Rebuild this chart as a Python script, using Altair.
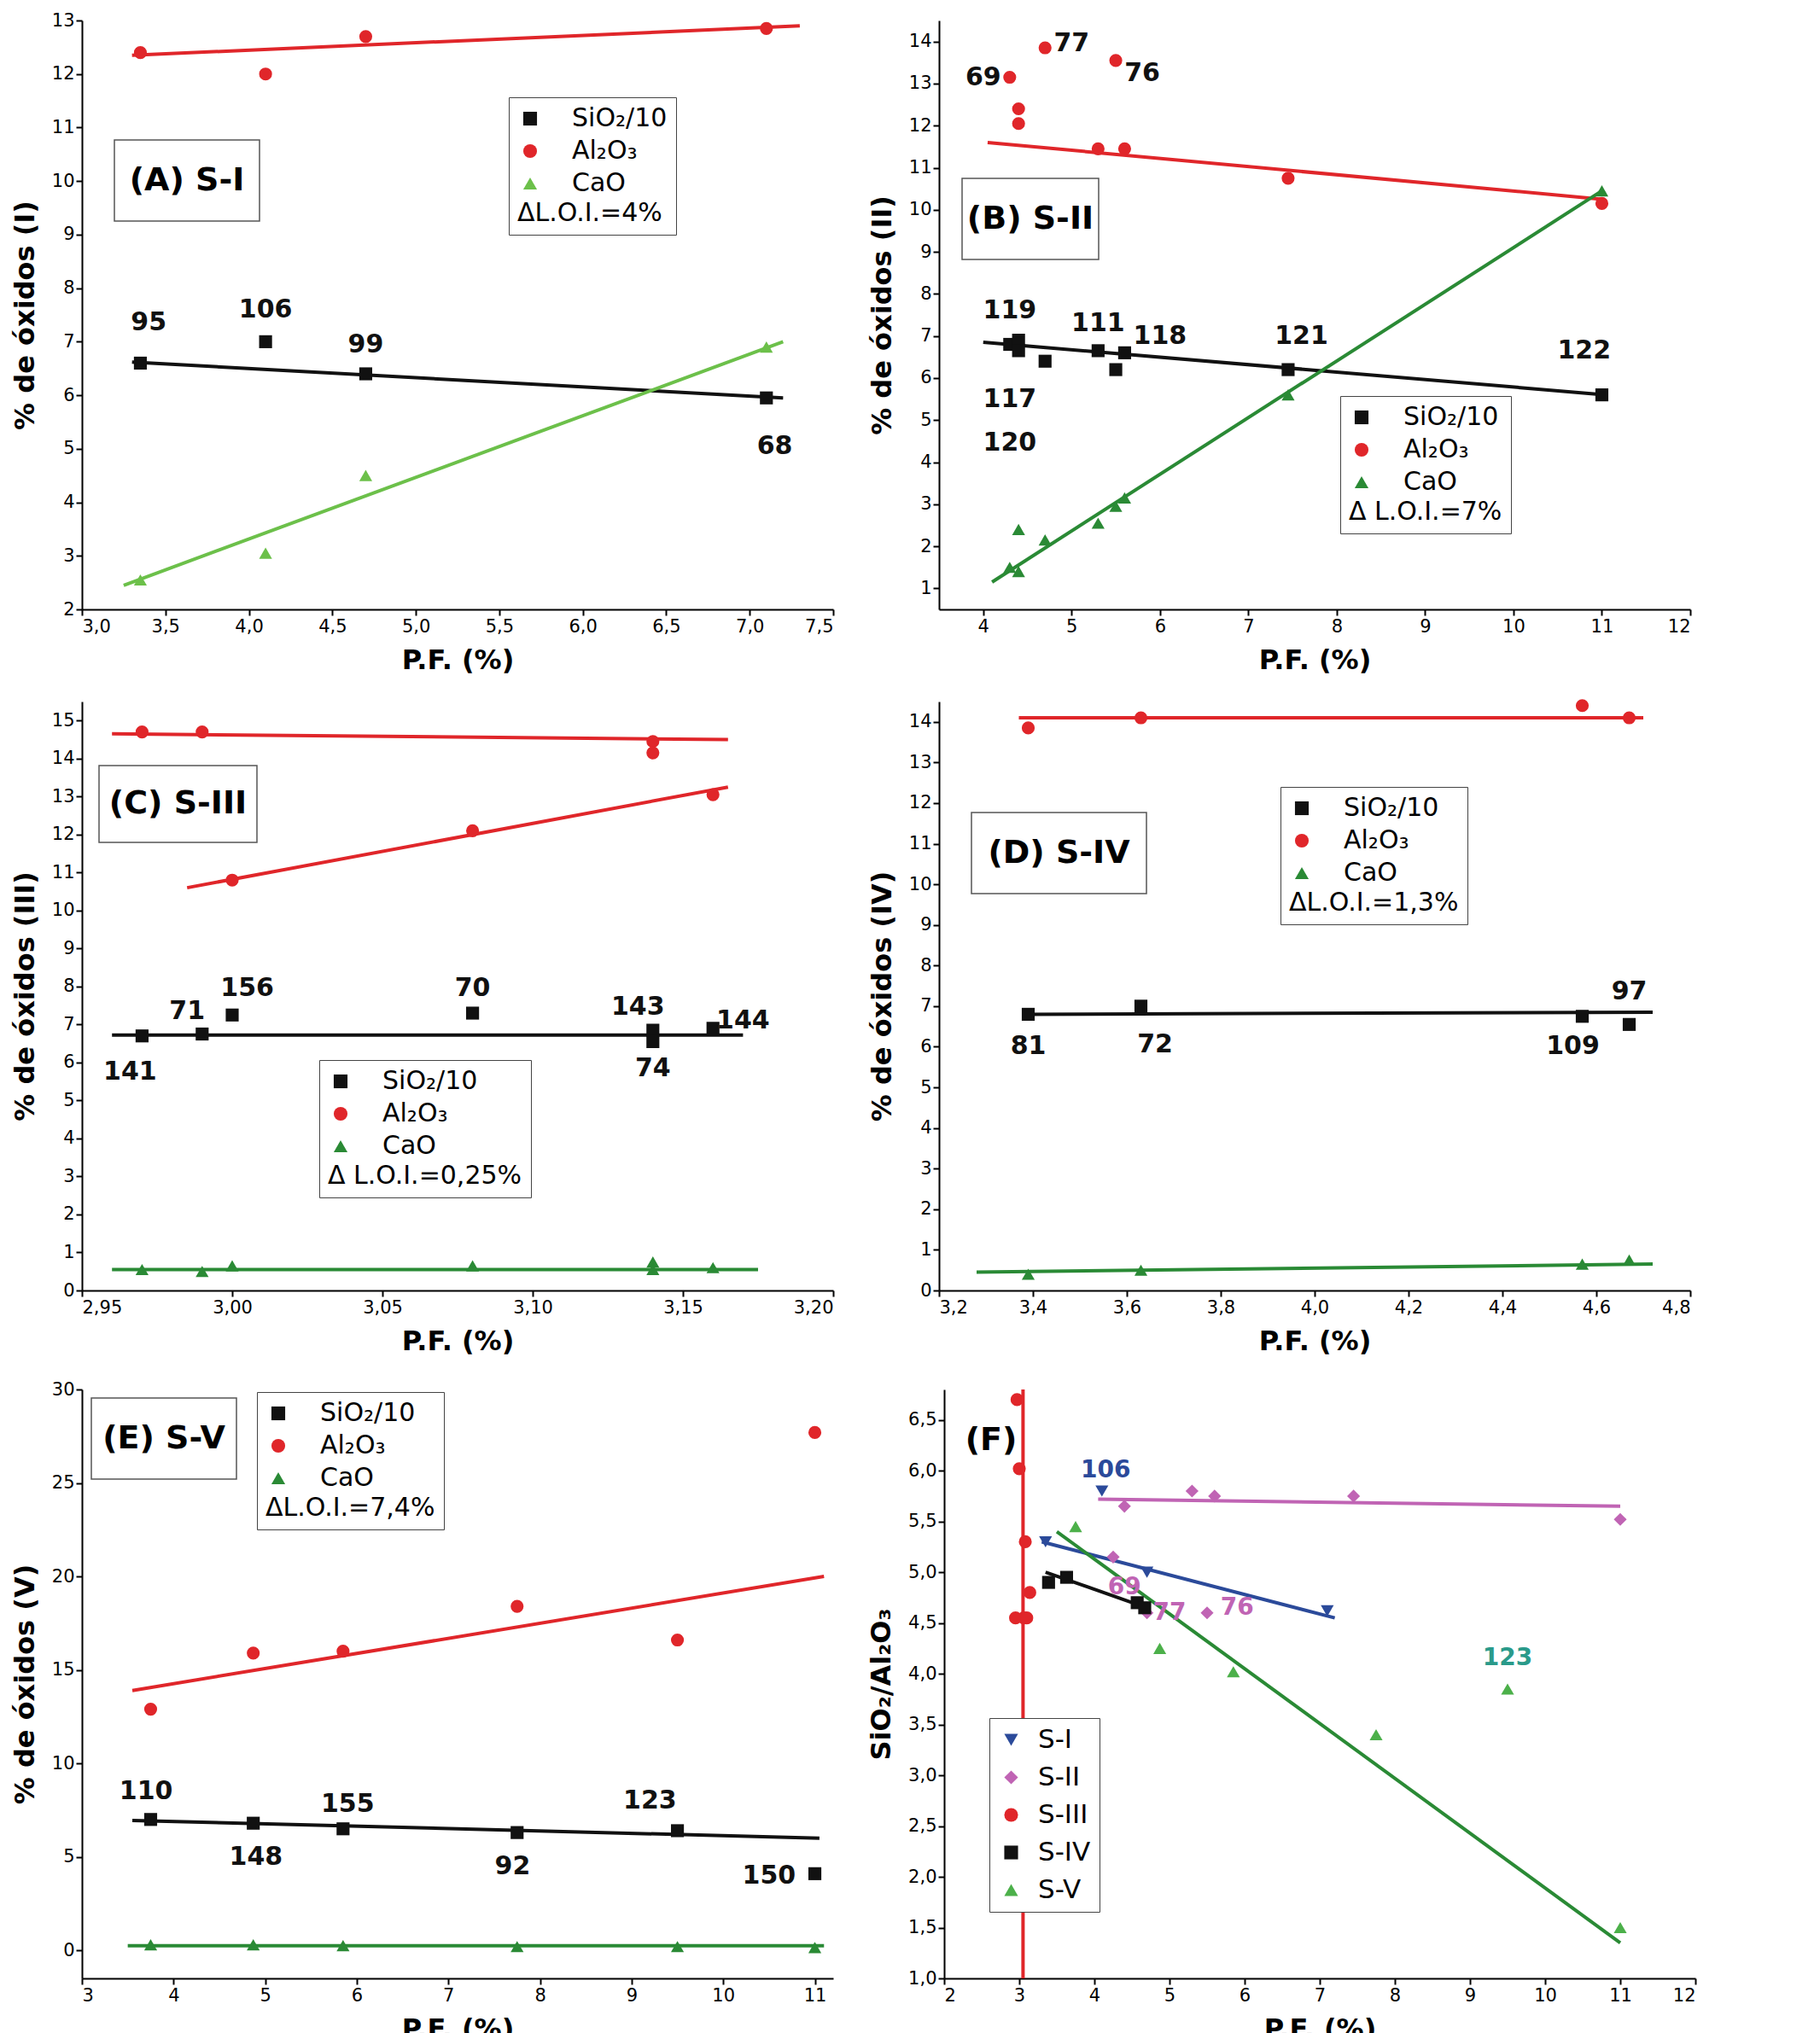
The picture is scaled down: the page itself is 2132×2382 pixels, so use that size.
import altair as alt
import pandas as pd

FONT = "DejaVu Sans"
BLACK, RED, GREEN_A, GREEN = "#111111", "#e0262a", "#6cc04a", "#2a8a35"
SER = ["SiO₂/10", "Al₂O₃", "CaO"]

# ---- Panel A ----
A_x = [3.35, 4.1, 4.7, 7.1]
A_si = [6.6, 7.0, 6.4, 5.95]
A_al = [12.4, 12.0, 12.7, 12.85]
A_ca = [2.55, 3.05, 4.5, 6.9]
A_lab = ["95", "106", "99", "68"]
A_labx = [3.4, 4.1, 4.7, 7.15]
A_laby = [7.35, 7.6, 6.95, 5.05]
A_lines = [(BLACK, 3.3, 6.62, 7.2, 5.95), (RED, 3.3, 12.35, 7.3, 12.9), (GREEN_A, 3.25, 2.45, 7.2, 7.0)]

# ---- Panel B ----
B_x = [4.3, 4.4, 4.4, 4.7, 5.3, 5.5, 5.6, 7.45, 11.0]
B_si = [6.8, 6.9, 6.65, 6.4, 6.65, 6.2, 6.6, 6.2, 5.6]
B_al = [13.15, 12.4, 12.05, 13.85, 11.45, 13.55, 11.45, 10.75, 10.15]
B_ca = [1.5, 2.4, 1.4, 2.15, 2.55, 2.95, 3.15, 5.6, 10.45]
B_lab = ["69", "77", "76", "119", "111", "118", "117", "120", "121", "122"]
B_labx = [4.0, 5.0, 5.8, 4.3, 5.3, 6.0, 4.3, 4.3, 7.6, 10.8]
B_laby = [13.15, 13.95, 13.25, 7.6, 7.3, 7.0, 5.5, 4.45, 7.0, 6.65]
B_lines = [(RED, 4.05, 11.6, 11.0, 10.25), (BLACK, 4.0, 6.85, 11.05, 5.6), (GREEN, 4.1, 1.15, 11.0, 10.45)]

# ---- Panel C ----
C_x = [2.97, 2.99, 3.0, 3.08, 3.14, 3.14, 3.16]
C_si = [6.7, 6.75, 7.25, 7.3, 6.85, 6.55, 6.9]
C_al = [14.7, 14.7, 10.8, 12.1, 14.45, 14.15, 13.05]
C_ca = [0.55, 0.5, 0.65, 0.65, 0.75, 0.55, 0.6]
C_lab = ["141", "71", "156", "70", "143", "74", "144"]
C_labx = [2.966, 2.985, 3.005, 3.08, 3.135, 3.14, 3.17]
C_laby = [5.75, 7.35, 7.95, 7.95, 7.45, 5.85, 7.1]
C_lines = [(RED, 2.96, 14.65, 3.165, 14.5), (RED, 2.985, 10.6, 3.165, 13.25),
           (BLACK, 2.96, 6.72, 3.17, 6.72), (GREEN, 2.96, 0.55, 3.175, 0.55)]

# ---- Panel D ----
D_x = [3.39, 3.63, 4.57, 4.67]
D_si = [6.8, 7.0, 6.75, 6.55]
D_al = [13.85, 14.1, 14.4, 14.1]
D_ca = [0.4, 0.5, 0.65, 0.75]
D_lab = ["81", "72", "109", "97"]
D_labx = [3.39, 3.66, 4.55, 4.67]
D_laby = [6.0, 6.05, 6.0, 7.35]
D_lines = [(RED, 3.37, 14.1, 4.7, 14.1), (BLACK, 3.38, 6.8, 4.72, 6.85), (GREEN, 3.28, 0.45, 4.72, 0.65)]

# ---- Panel E ----
E_x = [3.75, 4.87, 5.85, 7.75, 9.5, 11.0]
E_si = [7.0, 6.8, 6.5, 6.3, 6.4, 4.1]
E_al = [12.9, 15.9, 16.0, 18.4, 16.6, 27.7]
E_ca = [0.3, 0.3, 0.25, 0.2, 0.2, 0.15]
E_lab = ["110", "148", "155", "92", "123", "150"]
E_labx = [3.7, 4.9, 5.9, 7.7, 9.2, 10.5]
E_laby = [8.5, 5.0, 7.8, 4.5, 8.0, 4.0]
E_lines = [(RED, 3.55, 13.9, 11.1, 20.0), (BLACK, 3.55, 6.95, 11.05, 6.0), (GREEN, 3.5, 0.25, 11.1, 0.25)]

# ---- Panel F ----
F_series = ["S-I", "S-II", "S-III", "S-IV", "S-V"]
F_colors = ["#2b4a9a", "#c064b4", RED, BLACK, "#4cb04a"]
F_shapes = ["triangle-down", "diamond", "circle", "square", "triangle-up"]
F_pts = {
    "S-I": ([3.35, 4.1, 4.7, 7.1], [5.3, 5.8, 5.0, 4.62]),
    "S-II": ([4.4, 4.25, 4.7, 5.3, 5.5, 5.6, 7.45, 11.0], [5.65, 5.15, 4.6, 5.8, 4.6, 5.75, 5.75, 5.52]),
    "S-III": ([2.97, 3.0, 3.08, 3.14, 3.06, 2.95, 3.1], [6.7, 6.02, 5.3, 4.8, 4.55, 4.55, 4.55]),
    "S-IV": ([3.39, 3.63, 4.57, 4.67], [4.9, 4.95, 4.7, 4.65]),
    "S-V": ([3.75, 4.87, 5.85, 7.75, 9.5, 11.0], [5.45, 4.25, 4.02, 3.4, 3.85, 1.5]),
}
F_lines = [("#2b4a9a", 3.3, 5.3, 7.2, 4.55), ("#c064b4", 4.05, 5.72, 11.0, 5.65),
           (RED, 3.05, 1.0, 3.05, 6.8), (BLACK, 3.35, 5.0, 4.7, 4.65), (GREEN, 3.5, 5.4, 11.0, 1.35)]
F_lab = ["106", "69", "77", "76", "123"]
F_labx = [4.15, 4.4, 5.0, 5.9, 9.5]
F_laby = [6.0, 4.85, 4.6, 4.65, 4.15]
F_labc = ["#2b4a9a", "#c064b4", "#c064b4", "#c064b4", "#2a9a8a"]

W, H = 880, 690


def comma_axis(title, values, fmt):
    return alt.Axis(title=title, values=values, format=fmt,
                    labelExpr="replace(datum.label, '.', ',')", labelOverlap=False,
                    labelFont=FONT, labelFontSize=21, labelColor="black",
                    titleFont=FONT, titleFontSize=32, titleFontWeight="bold", titleColor="black",
                    domainColor="black", domainWidth=2, tickColor="black", tickWidth=2,
                    tickSize=7, grid=False, titlePadding=14)


def line_layer(lines, xs, ys):
    rows = []
    for i, (c, x1, y1, x2, y2) in enumerate(lines):
        rows += [dict(g=i, c=c, x=x1, y=y1), dict(g=i, c=c, x=x2, y=y2)]
    return alt.Chart(pd.DataFrame(rows)).mark_line(strokeWidth=4, clip=True).encode(
        x=alt.X("x:Q", scale=xs), y=alt.Y("y:Q", scale=ys),
        detail="g:N", color=alt.Color("c:N", scale=None))


def text_layer(labs, lx, ly, xs, ys, colors=None, size=30):
    df = pd.DataFrame(dict(t=labs, x=lx, y=ly, c=colors or [BLACK] * len(labs)))
    return alt.Chart(df).mark_text(font=FONT, fontSize=size, fontWeight="bold").encode(
        x=alt.X("x:Q", scale=xs), y=alt.Y("y:Q", scale=ys), text="t:N",
        color=alt.Color("c:N", scale=None))


def title_box(text, px, py, w, h, box=True):
    layers = []
    if box:
        layers.append(alt.Chart(pd.DataFrame({"a": [0]})).mark_rect(
            fill="white", stroke="#555", strokeWidth=1.5).encode(
            x=alt.value(px), x2=alt.value(px + w), y=alt.value(py), y2=alt.value(py + h)))
    layers.append(alt.Chart(pd.DataFrame({"a": [0]})).mark_text(
        font=FONT, fontSize=38, fontWeight="bold", align="center", baseline="middle").encode(
        x=alt.value(px + w / 2), y=alt.value(py + h / 2), text=alt.value(text)))
    return layers


def panel(xv, si, al, ca, lines, labs, lx, ly, xdom, xticks, xfmt, ydom, yticks, yfmt,
          ytitle, loi, legxy, title, tpos, green):
    xs = alt.Scale(domain=xdom, nice=False, zero=False)
    ys = alt.Scale(domain=ydom, nice=False, zero=False)
    rows = []
    for s, vals in zip(SER, [si, al, ca]):
        for x, y in zip(xv, vals):
            rows.append(dict(s=s, x=x, y=y))
    pts = alt.Chart(pd.DataFrame(rows)).mark_point(filled=True, size=230, opacity=1).encode(
        x=alt.X("x:Q", scale=xs, axis=comma_axis("P.F. (%)", xticks, xfmt)),
        y=alt.Y("y:Q", scale=ys, axis=comma_axis(ytitle, yticks, yfmt)),
        color=alt.Color("s:N", scale=alt.Scale(domain=SER, range=[BLACK, RED, green]),
                        legend=alt.Legend(title=loi, titleOrient="bottom", orient="none",
                                          legendX=legxy[0], legendY=legxy[1], titleLimit=600,
                                          strokeColor="#444", fillColor="white", padding=10,
                                          labelFont=FONT, labelFontSize=30, titleFont=FONT,
                                          titleFontSize=30, titleFontWeight="normal",
                                          symbolSize=260, rowPadding=8, labelOffset=34)),
        shape=alt.Shape("s:N", scale=alt.Scale(domain=SER, range=["square", "circle", "triangle-up"]),
                        legend=None),
    )
    layers = title_box(title, *tpos) + [line_layer(lines, xs, ys), pts, text_layer(labs, lx, ly, xs, ys)]
    return alt.layer(*layers).properties(width=W, height=H)


pA = panel(A_x, A_si, A_al, A_ca, A_lines, A_lab, A_labx, A_laby, [3.0, 7.5],
           [3.0, 3.5, 4.0, 4.5, 5.0, 5.5, 6.0, 6.5, 7.0, 7.5], ".1f", [2, 13], list(range(2, 14)), "d",
           "% de óxidos (I)", "ΔL.O.I.=4%", (500, 90), "(A) S-I", (38, 140, 170, 95), GREEN_A)
pB = panel(B_x, B_si, B_al, B_ca, B_lines, B_lab, B_labx, B_laby, [3.5, 12],
           list(range(4, 13)), "d", [0.5, 14.5], list(range(1, 15)), "d",
           "% de óxidos (II)", "Δ L.O.I.=7%", (470, 440), "(B) S-II", (27, 185, 160, 95), GREEN)
pC = panel(C_x, C_si, C_al, C_ca, C_lines, C_lab, C_labx, C_laby, [2.95, 3.2],
           [2.95, 3.0, 3.05, 3.1, 3.15, 3.2], ".2f", [0, 15.5], list(range(0, 16)), "d",
           "% de óxidos (III)", "Δ L.O.I.=0,25%", (278, 420), "(C) S-III", (20, 75, 185, 90), GREEN)
pD = panel(D_x, D_si, D_al, D_ca, D_lines, D_lab, D_labx, D_laby, [3.2, 4.8],
           [3.2, 3.4, 3.6, 3.8, 4.0, 4.2, 4.4, 4.6, 4.8], ".1f", [0, 14.5], list(range(0, 15)), "d",
           "% de óxidos (IV)", "ΔL.O.I.=1,3%", (400, 100), "(D) S-IV", (38, 130, 205, 95), GREEN)
pE = panel(E_x, E_si, E_al, E_ca, E_lines, E_lab, E_labx, E_laby, [3, 11.2],
           list(range(3, 12)), "d", [-1.5, 30], [0, 5, 10, 15, 20, 25, 30], "d",
           "% de óxidos (V)", "ΔL.O.I.=7,4%", (205, 3), "(E) S-V", (11, 10, 170, 95), GREEN)

# ---- Panel F ----
xsF = alt.Scale(domain=[2, 12], nice=False, zero=False)
ysF = alt.Scale(domain=[1.0, 6.8], nice=False, zero=False)
rowsF = []
for s in F_series:
    for x, y in zip(*F_pts[s]):
        rowsF.append(dict(s=s, x=x, y=y))
ptsF = alt.Chart(pd.DataFrame(rowsF)).mark_point(filled=True, size=230, opacity=1).encode(
    x=alt.X("x:Q", scale=xsF, axis=comma_axis("P.F. (%)", list(range(2, 13)), "d")),
    y=alt.Y("y:Q", scale=ysF, axis=comma_axis("SiO₂/Al₂O₃", [1.0 + 0.5 * i for i in range(12)], ".1f")),
    color=alt.Color("s:N", scale=alt.Scale(domain=F_series, range=F_colors),
                    legend=alt.Legend(title=None, orient="none", legendX=53, legendY=385,
                                      strokeColor="#444", fillColor="white", padding=10,
                                      labelFont=FONT, labelFontSize=31, symbolSize=260,
                                      rowPadding=12, labelOffset=16)),
    shape=alt.Shape("s:N", scale=alt.Scale(domain=F_series, range=F_shapes), legend=None),
)
pF = alt.layer(*(title_box("(F)", 10, 30, 90, 60, box=False) +
                 [line_layer(F_lines, xsF, ysF), ptsF,
                  text_layer(F_lab, F_labx, F_laby, xsF, ysF, F_labc, size=28)])).properties(width=W, height=H)

res = dict(color="independent", shape="independent")
row1 = alt.hconcat(pA, pB, spacing=40).resolve_scale(**res)
row2 = alt.hconcat(pC, pD, spacing=40).resolve_scale(**res)
row3 = alt.hconcat(pE, pF, spacing=40).resolve_scale(**res)
chart = alt.vconcat(row1, row2, row3, spacing=30).resolve_scale(**res).configure_view(stroke=None)
chart = chart.properties(background="white")
chart.save("out.html", embed_options={"renderer": "svg", "actions": False})
